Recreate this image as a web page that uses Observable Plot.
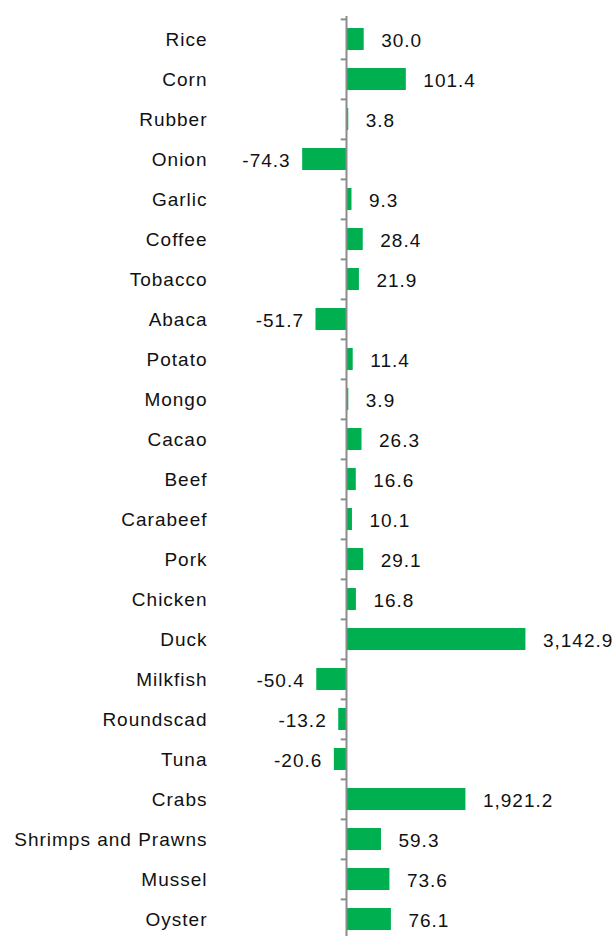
<!DOCTYPE html>
<html>
<head>
<meta charset="utf-8">
<script src="https://cdn.jsdelivr.net/npm/d3@7"></script>
<script src="https://cdn.jsdelivr.net/npm/@observablehq/plot@0.6"></script>
<style>
html,body{margin:0;padding:0;background:#fff;}
svg text{font-family:"Liberation Sans",Arial,sans-serif;letter-spacing:1px;}
</style>
</head>
<body>
<div id="chart"></div>
<script>
const categories = ["Rice","Corn","Rubber","Onion","Garlic","Coffee","Tobacco","Abaca","Potato","Mongo","Cacao","Beef","Carabeef","Pork","Chicken","Duck","Milkfish","Roundscad","Tuna","Crabs","Shrimps and Prawns","Mussel","Oyster"];
const values = [30.0,101.4,3.8,-74.3,9.3,28.4,21.9,-51.7,11.4,3.9,26.3,16.6,10.1,29.1,16.8,3142.9,-50.4,-13.2,-20.6,1921.2,59.3,73.6,76.1];

// The source chart uses a broken (compressed) axis for the largest values.
const brk1 = 110, brk2 = 1921.2, brkU2 = 202.4, brk3 = 3142.9, brkU3 = 304.1;
function axisUnits(v) {
  if (v <= brk1) return v;
  if (v <= brk2) return brk1 + (v - brk1) * (brkU2 - brk1) / (brk2 - brk1);
  return brkU2 + (v - brk2) * (brkU3 - brkU2) / (brk3 - brk2);
}

const data = categories.map((c,i)=>({cat:c, v:values[i], u: axisUnits(values[i])}));
const fmt = v => d3.format(",.1f")(v).replace("\u2212", "-");
const ax = 346;
const k = 0.59;

const chart = Plot.plot({
  width: 612,
  height: 936,
  marginTop: 16,
  marginBottom: -5,
  marginLeft: 210,
  marginRight: 0,
  style: {fontFamily: "'Liberation Sans', Arial, sans-serif", fontSize: "19px", color: "#111", background: "#fff"},
  x: {domain: [-80, 310], range: [ax - 80*k, ax + 310*k], axis: null},
  y: {domain: categories, paddingInner: 0.45, paddingOuter: 0.225, align: 0.5, label: null},
  marks: [
    Plot.barX(data, {y: "cat", x: "u", fill: "#00B050"}),
    Plot.ruleX([0], {stroke: "#8c8c8c", strokeWidth: 2}),
    Plot.ruleY(categories, {y: d => d, x1: -9, x2: 0, dy: -20.1, stroke: "#8c8c8c", strokeWidth: 2}),
    Plot.axisY({anchor: "left", tickSize: 0, tickPadding: 3, fontSize: 19, label: null}),
    Plot.text(data.filter(d => d.v >= 0), {y: "cat", x: "u", text: d => fmt(d.v), textAnchor: "start", dx: 17, dy: 1, fontSize: 19, fill: "#111"}),
    Plot.text(data.filter(d => d.v < 0), {y: "cat", x: "u", text: d => fmt(d.v), textAnchor: "end", dx: -12, dy: 1, fontSize: 19, fill: "#111"})
  ]
});
document.getElementById("chart").appendChild(chart);
</script>
</body>
</html>
